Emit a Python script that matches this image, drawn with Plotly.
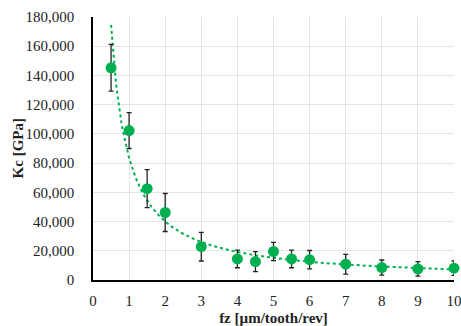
import numpy as np
import plotly.graph_objects as go

fz = [0.5, 1, 1.5, 2, 3, 4, 4.5, 5, 5.5, 6, 7, 8, 9, 10]
kc = [145200, 102300, 62500, 46200, 22800, 14400, 12600, 19500, 14400, 13900, 10800, 8500, 7600, 8100]
kc_err = [16000, 12300, 13000, 13000, 9800, 6000, 6800, 6300, 6000, 6300, 6800, 5200, 5000, 4900]

# Power trendline (least squares on log-log, like a spreadsheet power fit)
b, ln_a = np.polyfit(np.log(fz), np.log(kc), 1)
xt = np.linspace(min(fz), max(fz), 300)
yt = np.exp(ln_a) * xt ** b

fig = go.Figure()
fig.add_trace(go.Scatter(
    x=xt, y=yt, mode="lines",
    line=dict(color="#00B050", width=2, dash="dot"),
    hoverinfo="skip", showlegend=False))
fig.add_trace(go.Scatter(
    x=fz, y=kc, mode="markers",
    marker=dict(color="#00B050", size=11),
    error_y=dict(type="data", array=kc_err, color="#222222", thickness=1.3, width=2.5),
    showlegend=False, cliponaxis=False))

font = "'Liberation Serif', 'Times New Roman', serif"
fig.update_layout(
    width=461, height=326,
    margin=dict(l=93, r=7, t=17, b=46),
    paper_bgcolor="white", plot_bgcolor="white",
    font=dict(family=font, size=15, color="#222222"),
    xaxis=dict(
        range=[0, 10], tickvals=list(range(0, 11)),
        showgrid=True, gridcolor="#E4E4E4", gridwidth=1,
        showline=True, linecolor="black", linewidth=1.5,
        zeroline=False, ticks="", ticklabelstandoff=6, automargin=False,
        ticklabeloverflow="allow",
        title=dict(text="<b>fz [µm/tooth/rev]</b>", font=dict(size=15), standoff=8),
    ),
    yaxis=dict(
        range=[0, 180000], tickvals=list(range(0, 180001, 20000)),
        tickformat=",",
        showgrid=True, gridcolor="#E4E4E4", gridwidth=1,
        showline=True, linecolor="black", linewidth=1.5,
        zeroline=False, ticks="", ticklabelstandoff=14, automargin=False,
    ),
    annotations=[dict(
        text="<b>Kc [GPa]</b>", textangle=-90, showarrow=False,
        xref="paper", yref="paper", x=-0.208, y=0.5,
        xanchor="center", yanchor="middle", font=dict(size=15),
    )],
)
fig.write_html("out.html")
